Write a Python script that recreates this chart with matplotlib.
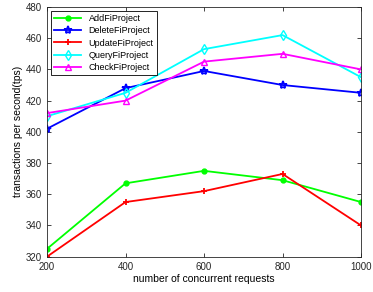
import matplotlib
matplotlib.use("Agg")
import matplotlib.pyplot as plt

requests = [200, 400, 600, 800, 1000]
add_tps = [325, 367, 375, 369, 355]
delete_tps = [402, 428, 439, 430, 425]
update_tps = [320, 355, 362, 373, 340]
query_tps = [410, 425, 453, 462, 435]
check_tps = [412, 420, 445, 450, 440]

plt.rcParams['font.family'] = 'Liberation Sans'
plt.rcParams['font.size'] = 7

fig = plt.figure(figsize=(3.73, 2.92), dpi=100)
ax = fig.add_axes([0.126, 0.121, 0.842, 0.855])

ax.plot(requests, add_tps, color='#00ff00', marker='o', markersize=3.5, lw=1.3, label='AddFiProject')
ax.plot(requests, delete_tps, color='#0000ff', marker='*', markersize=6, lw=1.3,
        mfc='none', mew=1.3, label='DeleteFiProject')
ax.plot(requests, update_tps, color='#ff0000', marker='+', markersize=5, lw=1.3, mew=1.3, label='UpdateFiProject')
ax.plot(requests, query_tps, color='#00ffff', marker='d', markersize=5, lw=1.3,
        mfc='none', mew=1.0, label='QueryFiProject')
ax.plot(requests, check_tps, color='#ff00ff', marker='^', markersize=5, lw=1.3,
        mfc='none', mew=1.0, label='CheckFiProject')

ax.set_xlim(200, 1000)
ax.set_ylim(320, 480)
ax.set_xticks(requests)
ax.set_yticks(range(320, 481, 20))
ax.tick_params(direction='in', length=3, top=True, right=True, colors='#262626', width=0.6)
for s in ax.spines.values():
    s.set_color('#262626')
    s.set_linewidth(0.6)
ax.set_xlabel('number of concurrent requests', fontsize=7.5, labelpad=2)
ax.set_ylabel('transactions per second(tps)', fontsize=7.5, labelpad=2)

leg = ax.legend(loc='upper left', fontsize=6.5, fancybox=False, edgecolor='black',
                framealpha=1, handlelength=3, borderaxespad=0.4, labelspacing=0.35)
leg.get_frame().set_linewidth(0.6)

fig.savefig('out.png', dpi=100)
